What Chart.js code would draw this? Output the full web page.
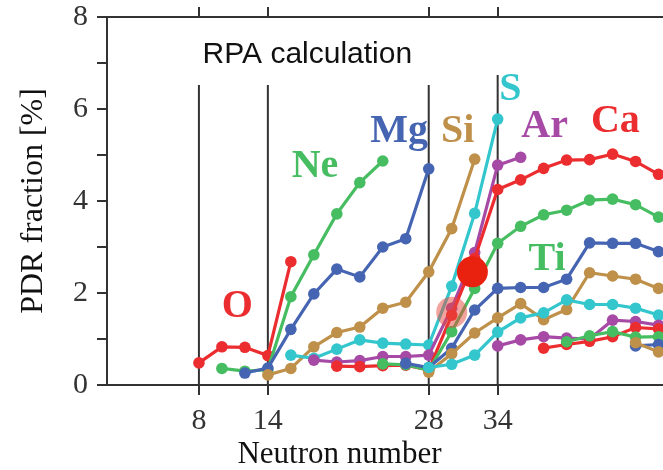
<!DOCTYPE html>
<html>
<head>
<meta charset="utf-8">
<script src="https://cdn.jsdelivr.net/npm/chart.js@4.4.1/dist/chart.umd.min.js"></script>
<style>
  html, body { margin: 0; padding: 0; background: #fff; }
  .wrap { width: 663px; height: 470px; overflow: hidden; }
  canvas { display: block; }
</style>
</head>
<body>
<div class="wrap"><canvas id="pdr" width="720" height="470"></canvas></div>
<script>
// PDR fraction per isotope chain, even neutron numbers starting at firstN
const elements = ['O', 'Ne', 'Mg', 'Si', 'S', 'Ar', 'Ca', 'Ti', 'Cr', 'Fe', 'Ni', 'Zn', 'Ge', 'Se', 'Kr', 'Sr'];
const firstN = [8, 10, 12, 14, 16, 18, 20, 24, 26, 28, 28, 34, 38, 40, 46, 46];

const pdrO  = [0.48, 0.83, 0.82, 0.64, 2.68];
const pdrNe = [0.36, 0.30, 0.33, 1.92, 2.83, 3.72, 4.40, 4.87];
const pdrMg = [0.26, 0.37, 1.21, 1.98, 2.52, 2.35, 3.00, 3.18, 4.70];
const pdrSi = [0.22, 0.36, 0.83, 1.14, 1.26, 1.67, 1.80, 2.46, 3.40, 4.91];
const pdrS  = [0.65, 0.58, 0.78, 0.98, 0.91, 0.89, 0.87, 2.15, 3.73, 5.78];
const pdrAr = [0.54, 0.50, 0.53, 0.62, 0.62, 0.65, 1.67, 2.88, 4.78, 4.95];
const pdrCa = [0.41, 0.40, 0.42, 0.43, 0.33, 1.52, 2.75, 4.25, 4.46, 4.71, 4.89, 4.90, 5.02, 4.86, 4.58];
const pdrTi = [0.46, 0.44, 0.32, 1.16, 2.10, 3.08, 3.45, 3.70, 3.80, 4.02, 4.04, 3.92, 3.65];
const pdrCr = [0.47, 0.38, 0.80, 1.63, 2.10, 2.12, 2.12, 2.30, 3.09, 3.08, 3.08, 2.90];
const pdrFe = [0.28, 0.68, 1.13, 1.46, 1.77, 1.42, 1.64, 2.44, 2.37, 2.30, 2.10];
const pdrNi = [0.38, 0.45, 0.65, 1.15, 1.46, 1.57, 1.85, 1.75, 1.75, 1.67, 1.52];
const pdrZn = [0.85, 0.98, 1.05, 1.02, 1.00, 1.41, 1.38, 1.30];
const pdrGe = [0.80, 0.88, 0.95, 1.05, 1.25, 1.22];
const pdrSe = [0.94, 1.07, 1.16, 1.04, 1.05];
const pdrKr = [0.85, 0.88];
const pdrSr = [0.92, 0.72];

const series = [pdrO, pdrNe, pdrMg, pdrSi, pdrS, pdrAr, pdrCa, pdrTi,
                pdrCr, pdrFe, pdrNi, pdrZn, pdrGe, pdrSe, pdrKr, pdrSr];

// magic numbers, marked by vertical lines
const shellN = [8, 14, 28, 34];
const shellTop = [6.52, 6.52, 6.52, 6.74];
const xTicks = [8, 14, 28, 34];

// highlighted Ca points
const markN = [31.8, 30];
const markPdr = [2.46, 1.58];

// element name tags (neutron number, PDR value at text baseline)
const tagText = ['O', 'Ne', 'Mg', 'Si', 'S', 'Ar', 'Ca', 'Ti'];
const tagN = [11.35, 18.1, 25.43, 30.53, 35.1, 38.09, 44.24, 38.3];
const tagPdr = [1.48, 4.52, 5.28, 5.28, 6.2, 5.39, 5.5, 2.5];

const palette = ['#ec2d2f', '#47bd62', '#4564b2', '#bf9049', '#34c6cd', '#a64aa5'];
const axisColor = '#333';
const serif = '"Liberation Serif", "Times New Roman", serif';

const chainSets = series.map((vals, i) => ({
  label: elements[i],
  data: vals.map((v, k) => ({ x: firstN[i] + 2 * k, y: v })),
  showLine: true,
  borderColor: palette[i % 6],
  backgroundColor: palette[i % 6],
  borderWidth: 3.2,
  pointRadius: 5.8,
  pointHoverRadius: 5.8,
  pointBorderWidth: 0,
  order: 100 - i
}));

const shellSets = shellN.map((n, i) => ({
  data: [{ x: n, y: 0 }, { x: n, y: shellTop[i] }],
  showLine: true,
  borderColor: axisColor,
  borderWidth: 2,
  pointRadius: 0,
  order: 200
}));

const markSets = [
  {
    data: [{ x: markN[1], y: markPdr[1] }],
    pointRadius: 15.5,
    pointHoverRadius: 15.5,
    pointBorderWidth: 0,
    backgroundColor: 'rgba(232, 72, 60, 0.5)',
    order: -1
  },
  {
    data: [{ x: markN[0], y: markPdr[0] }],
    pointRadius: 15.5,
    pointHoverRadius: 15.5,
    pointBorderWidth: 0,
    backgroundColor: '#e9210f',
    order: -2
  }
];

// element names, the run label and the x axis title
const tags = {
  id: 'tags',
  afterDatasetsDraw(chart) {
    const { ctx, scales: { x, y } } = chart;
    ctx.save();
    ctx.textBaseline = 'alphabetic';
    ctx.textAlign = 'center';
    ctx.font = 'bold 40px ' + serif;
    tagText.forEach((t, i) => {
      ctx.fillStyle = palette[i % 6];
      ctx.fillText(t, x.getPixelForValue(tagN[i]), y.getPixelForValue(tagPdr[i]));
    });
    ctx.fillStyle = '#111';
    ctx.font = '31px ' + serif;
    ctx.fillText('Neutron number', x.getPixelForValue(20.23), x.bottom - 7);
    ctx.textAlign = 'left';
    ctx.font = '30px "Liberation Sans", Arial, sans-serif';
    ctx.fillText('RPA calculation', x.getPixelForValue(8.32), y.getPixelForValue(7.0));
    ctx.restore();
  }
};

const setTicks = scale => { scale.ticks = xTicks.map(v => ({ value: v })); };

new Chart(document.getElementById('pdr'), {
  type: 'scatter',
  data: { datasets: [...markSets, ...chainSets, ...shellSets] },
  plugins: [tags],
  options: {
    responsive: false,
    animation: false,
    events: [],
    layout: { padding: { left: 0, right: 13, top: 0, bottom: 0 } },
    plugins: { legend: { display: false }, tooltip: { enabled: false } },
    scales: {
      x: {
        type: 'linear',
        position: 'bottom',
        min: 0,
        max: 52,
        afterBuildTicks: setTicks,
        afterFit: s => { s.height = 85; s.paddingLeft = 0; s.paddingRight = 0; },
        ticks: { color: axisColor, padding: 8, font: { family: serif, size: 30 } },
        grid: { drawOnChartArea: false, tickLength: 10, color: axisColor, lineWidth: 2 },
        border: { color: axisColor, width: 2 }
      },
      xTop: {
        type: 'linear',
        position: 'top',
        min: 0,
        max: 52,
        afterBuildTicks: setTicks,
        afterFit: s => { s.height = 17; s.paddingLeft = 0; s.paddingRight = 0; },
        ticks: { display: false },
        grid: { drawOnChartArea: false, tickLength: 10, color: axisColor, lineWidth: 2 },
        border: { color: axisColor, width: 2 }
      },
      y: {
        min: 0,
        max: 8,
        afterFit: s => { s.width = 107; s.paddingTop = 0; s.paddingBottom = 0; },
        ticks: {
          stepSize: 1,
          color: axisColor,
          padding: 9,
          font: { family: serif, size: 30 },
          callback: v => (v % 2 === 0 ? v : '')
        },
        grid: { drawOnChartArea: false, tickLength: 10, color: axisColor, lineWidth: 2 },
        border: { color: axisColor, width: 2 },
        title: {
          display: true,
          text: 'PDR fraction [%]',
          color: '#111',
          padding: { top: 14, bottom: 0 },
          font: { family: serif, size: 32 }
        }
      }
    }
  }
});
</script>
</body>
</html>
